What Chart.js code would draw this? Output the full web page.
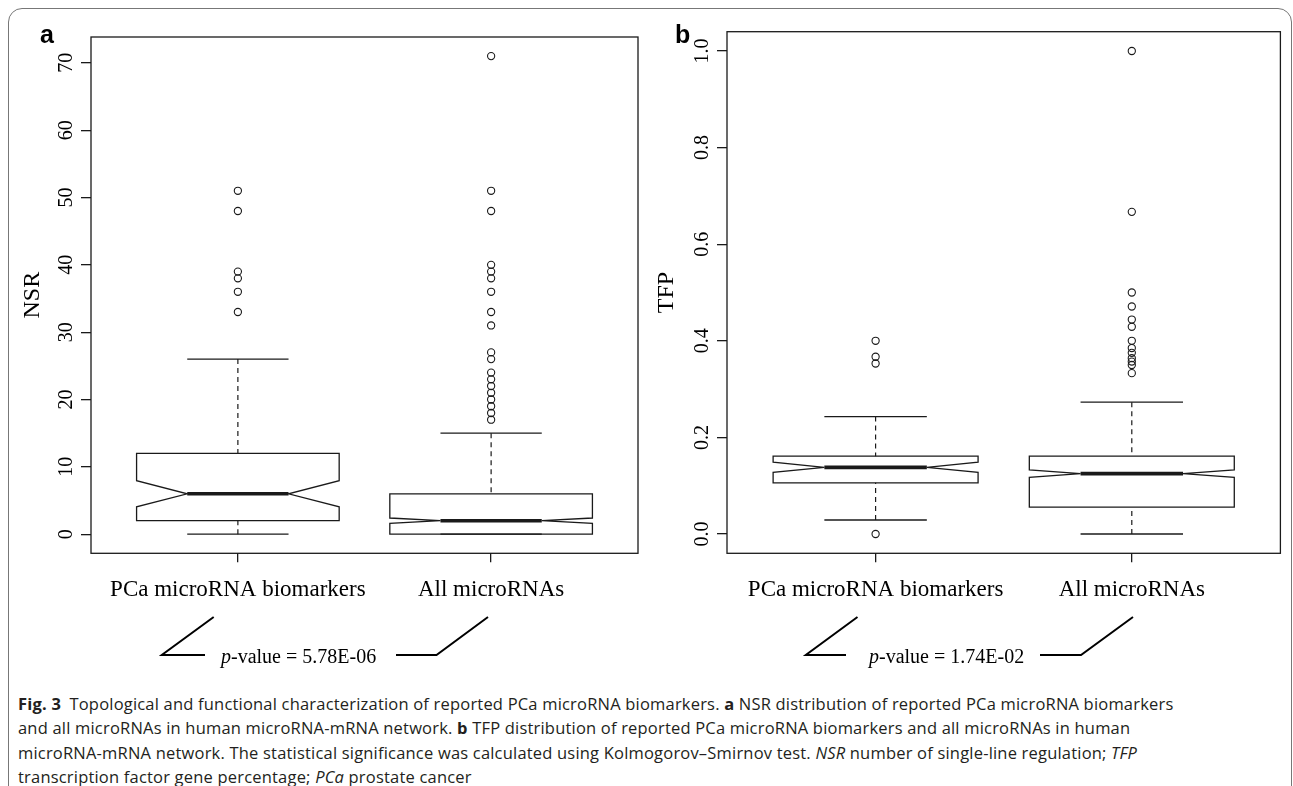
<!DOCTYPE html>
<html>
<head>
<meta charset="utf-8">
<script src="https://cdn.jsdelivr.net/npm/chart.js@4.4.1/dist/chart.umd.min.js"></script>
<style>
  html, body { margin: 0; padding: 0; background: #fff; }
  body { width: 1293px; height: 786px; overflow: hidden; position: relative; }
  #frame { position: absolute; left: 8px; top: 8px; width: 1284px; height: 900px; box-sizing: border-box;
           border: 1.5px solid #777; border-radius: 14px; }
  canvas { position: absolute; top: 0; }
  #cva { left: 0; }
  #cvb { left: 646px; }
  #caption { position: absolute; left: 18px; top: 692px; font-family: 'Open Sans', sans-serif; font-size: 16.5px;
             line-height: 24.4px; color: #231f20; white-space: nowrap; }
  #caption > div { display: inline-block; }
  #caption b { font-weight: 700; }
</style>
</head>
<body>
<div id="frame"></div>
<canvas id="cva" width="646" height="680"></canvas>
<canvas id="cvb" width="647" height="680"></canvas>
<div id="caption">
  <div class="cl" data-w="1259"><b>Fig. 3</b>&ensp;Topological and functional characterization of reported PCa microRNA biomarkers. <b>a</b> NSR distribution of reported PCa microRNA biomarkers</div><br>
  <div class="cl" data-w="1036">and all microRNAs in human microRNA-mRNA network. <b>b</b> TFP distribution of reported PCa microRNA biomarkers and all microRNAs in human</div><br>
  <div class="cl" data-w="1043">microRNA-mRNA network. The statistical significance was calculated using Kolmogorov–Smirnov test. <i>NSR</i> number of single-line regulation; <i>TFP</i></div><br>
  <div class="cl" data-w="557">transcription factor gene percentage; <i>PCa</i> prostate cancer</div>
</div>
<script>
// ---------------- data ----------------
const categories = ['PCa microRNA biomarkers', 'All microRNAs'];

// Panel a – NSR
const nsrWhiskerLow  = [0, 0];
const nsrQ1          = [2, 0];
const nsrMedian      = [6, 2];
const nsrQ3          = [12, 6];
const nsrWhiskerHigh = [26, 15];
const nsrNotchLow    = [4.06, 1.6];
const nsrNotchHigh   = [7.94, 2.4];
const nsrOutliersPCa = [51, 48, 39, 38, 36, 33];
const nsrOutliersAll = [71, 51, 48, 40, 39, 38, 36, 33, 31, 27, 26, 24, 23, 22, 21, 20, 19, 18, 17];
const nsrTicks       = [0, 10, 20, 30, 40, 50, 60, 70];
const nsrTickLabels  = ['0', '10', '20', '30', '40', '50', '60', '70'];
const nsrRange       = [-2.84, 73.84];

// Panel b – TFP
const tfpWhiskerLow  = [0.029, 0];
const tfpQ1          = [0.106, 0.0556];
const tfpMedian      = [0.138, 0.125];
const tfpQ3          = [0.161, 0.161];
const tfpWhiskerHigh = [0.243, 0.273];
const tfpNotchLow    = [0.1275, 0.117];
const tfpNotchHigh   = [0.1485, 0.1325];
const tfpOutliersPCa = [0.4, 0.367, 0.353, 0];
const tfpOutliersAll = [1.0, 0.667, 0.5, 0.471, 0.444, 0.429, 0.4, 0.385, 0.375, 0.364, 0.357, 0.35, 0.333];
const tfpTicks       = [0, 0.2, 0.4, 0.6, 0.8, 1.0];
const tfpTickLabels  = ['0.0', '0.2', '0.4', '0.6', '0.8', '1.0'];
const tfpRange       = [-0.04, 1.04];

const pValueLabels = ['5.78E-06', '1.74E-02'];
const panelLetters = ['a', 'b'];
const yTitles      = ['NSR', 'TFP'];

// ---------------- drawing ----------------
const INK = '#1a1a1a';
const SERIF = "'Liberation Serif', 'Times New Roman', serif";
const BOXHALF = 0.4, NOTCHHALF = 0.2, CAPHALF = 0.2;

function seg(ctx, x1, y1, x2, y2) { ctx.beginPath(); ctx.moveTo(x1, y1); ctx.lineTo(x2, y2); ctx.stroke(); }

function boxPlugin(p, L) {
  return {
    id: 'boxplot_' + p.letter,
    afterDraw(chart) {
      const ctx = chart.ctx, a = chart.chartArea;
      const xs = chart.scales.x, ys = chart.scales.y;
      const X = v => xs.getPixelForValue(v), Y = v => ys.getPixelForValue(v);
      ctx.save();
      ctx.strokeStyle = INK; ctx.fillStyle = '#000'; ctx.lineCap = 'butt'; ctx.lineJoin = 'miter';
      // plot frame
      ctx.lineWidth = 1.3;
      ctx.strokeRect(a.left, a.top, a.right - a.left, a.bottom - a.top);
      // boxes
      p.median.forEach((m, i) => {
        const c = i + 1;
        const q1 = p.q1[i], q3 = p.q3[i], lo = p.wLo[i], hi = p.wHi[i], nLo = p.nLo[i], nHi = p.nHi[i];
        ctx.lineWidth = 1.2;
        ctx.setLineDash([5, 4]);
        if (hi > q3) seg(ctx, X(c), Y(hi), X(c), Y(q3));
        if (lo < q1) seg(ctx, X(c), Y(lo), X(c), Y(q1));
        ctx.setLineDash([]);
        ctx.lineWidth = 1.3;
        seg(ctx, X(c - CAPHALF), Y(hi), X(c + CAPHALF), Y(hi));
        seg(ctx, X(c - CAPHALF), Y(lo), X(c + CAPHALF), Y(lo));
        const pts = [[c - BOXHALF, q1], [c + BOXHALF, q1], [c + BOXHALF, nLo], [c + NOTCHHALF, m],
                     [c + BOXHALF, nHi], [c + BOXHALF, q3], [c - BOXHALF, q3], [c - BOXHALF, nHi],
                     [c - NOTCHHALF, m], [c - BOXHALF, nLo]];
        ctx.beginPath();
        pts.forEach((pt, k) => k ? ctx.lineTo(X(pt[0]), Y(pt[1])) : ctx.moveTo(X(pt[0]), Y(pt[1])));
        ctx.closePath(); ctx.stroke();
        ctx.lineWidth = 3.6;
        seg(ctx, X(c - NOTCHHALF), Y(m), X(c + NOTCHHALF), Y(m));
      });
      // rotated y tick labels
      ctx.font = '20px ' + SERIF; ctx.textAlign = 'center'; ctx.textBaseline = 'alphabetic';
      p.ticks.forEach((v, k) => {
        ctx.save(); ctx.translate(a.left - L.tickGap, Y(v)); ctx.rotate(-Math.PI / 2);
        ctx.fillText(p.tickLabels[k], 0, 0); ctx.restore();
      });
      // x category labels
      ctx.font = '23px ' + SERIF;
      categories.forEach((cat, i) => ctx.fillText(cat, X(i + 1), L.xLabelBase));
      // panel letter
      ctx.font = "bold 25px 'Liberation Sans', Arial, sans-serif"; ctx.textAlign = 'left';
      ctx.fillText(p.letter, L.letterX, 43);
      // p-value annotation
      const v = L.pv;
      ctx.lineWidth = 2; ctx.strokeStyle = '#000';
      ctx.beginPath(); ctx.moveTo(v.l[0][0], v.l[0][1]); ctx.lineTo(v.l[1][0], v.l[1][1]); ctx.lineTo(v.l[2][0], v.l[2][1]); ctx.stroke();
      ctx.beginPath(); ctx.moveTo(v.r[0][0], v.r[0][1]); ctx.lineTo(v.r[1][0], v.r[1][1]); ctx.lineTo(v.r[2][0], v.r[2][1]); ctx.stroke();
      ctx.font = 'italic 20px ' + SERIF;
      ctx.fillText('p', v.textX, v.textY);
      const pw = ctx.measureText('p').width;
      ctx.font = '20px ' + SERIF;
      ctx.fillText('-value = ' + p.pval, v.textX + pw, v.textY);
      ctx.restore();
    }
  };
}

function makePanel(canvasId, p, L) {
  return new Chart(document.getElementById(canvasId), {
    type: 'scatter',
    data: {
      datasets: p.outliers.map((vals, i) => ({
        data: vals.map(val => ({ x: i + 1, y: val })),
        pointStyle: 'circle', pointRadius: 3.6, pointHoverRadius: 3.6,
        pointBorderColor: INK, pointBackgroundColor: 'rgba(0,0,0,0)', pointBorderWidth: 1.1,
        showLine: false
      }))
    },
    options: {
      responsive: false, animation: false, devicePixelRatio: 1, events: [],
      layout: { padding: { left: 0, top: L.top, right: L.right, bottom: 0 } },
      plugins: { legend: { display: false }, tooltip: { enabled: false } },
      scales: {
        x: {
          type: 'linear', min: 0.42, max: 2.58,
          afterBuildTicks: s => { s.ticks = categories.map((c, i) => ({ value: i + 1 })); },
          afterFit: s => { s.height = L.height - L.bottom; },
          ticks: { display: false },
          grid: { drawOnChartArea: false, drawTicks: true, tickLength: 9, color: INK, lineWidth: 1.3 },
          border: { display: false }
        },
        y: {
          type: 'linear', min: p.range[0], max: p.range[1],
          afterBuildTicks: s => { s.ticks = p.ticks.map(val => ({ value: val })); },
          afterFit: s => { s.width = L.yAxisW; },
          ticks: { display: false },
          grid: { drawOnChartArea: false, drawTicks: true, tickLength: 10, color: INK, lineWidth: 1.3 },
          border: { display: false },
          title: { display: true, text: p.title, color: '#000', font: { family: SERIF, size: 24 },
                   padding: { top: L.titlePad, bottom: 0 } }
        }
      }
    },
    plugins: [boxPlugin(p, L)]
  });
}

const panelA = {
  letter: panelLetters[0], title: yTitles[0], pval: pValueLabels[0], range: nsrRange,
  ticks: nsrTicks, tickLabels: nsrTickLabels,
  q1: nsrQ1, q3: nsrQ3, median: nsrMedian, wLo: nsrWhiskerLow, wHi: nsrWhiskerHigh,
  nLo: nsrNotchLow, nHi: nsrNotchHigh, outliers: [nsrOutliersPCa, nsrOutliersAll]
};
const panelB = {
  letter: panelLetters[1], title: yTitles[1], pval: pValueLabels[1], range: tfpRange,
  ticks: tfpTicks, tickLabels: tfpTickLabels,
  q1: tfpQ1, q3: tfpQ3, median: tfpMedian, wLo: tfpWhiskerLow, wHi: tfpWhiskerHigh,
  nLo: tfpNotchLow, nHi: tfpNotchHigh, outliers: [tfpOutliersPCa, tfpOutliersAll]
};

const layoutA = { height: 680, top: 37, right: 8, bottom: 553.3, yAxisW: 91, titlePad: 18.6, tickGap: 19,
  xLabelBase: 596, letterX: 40,
  pv: { l: [[213.7, 617], [161.8, 655], [205, 655]], r: [[396, 655], [436.5, 655], [488, 617]], textX: 221, textY: 663 } };
const layoutB = { height: 680, top: 31.7, right: 12.6, bottom: 553.3, yAxisW: 81, titlePad: 6.6, tickGap: 19,
  xLabelBase: 596, letterX: 29,
  pv: { l: [[211.5, 617], [159.8, 655], [200, 655]], r: [[394, 655], [435, 655], [487, 617]], textX: 223, textY: 663 } };

makePanel('cva', panelA, layoutA);
makePanel('cvb', panelB, layoutB);

// caption: a single letter spacing, least-squares fitted to the reference line lengths
(function () {
  const lines = [...document.querySelectorAll('#caption .cl')];
  let num = 0, den = 0;
  lines.forEach(el => {
    const n = el.textContent.length;
    num += n * ((+el.dataset.w) - el.getBoundingClientRect().width);
    den += n * n;
  });
  const ls = Math.max(-0.6, Math.min(0.8, num / den));
  document.getElementById('caption').style.letterSpacing = ls.toFixed(3) + 'px';
})();
</script>
</body>
</html>
